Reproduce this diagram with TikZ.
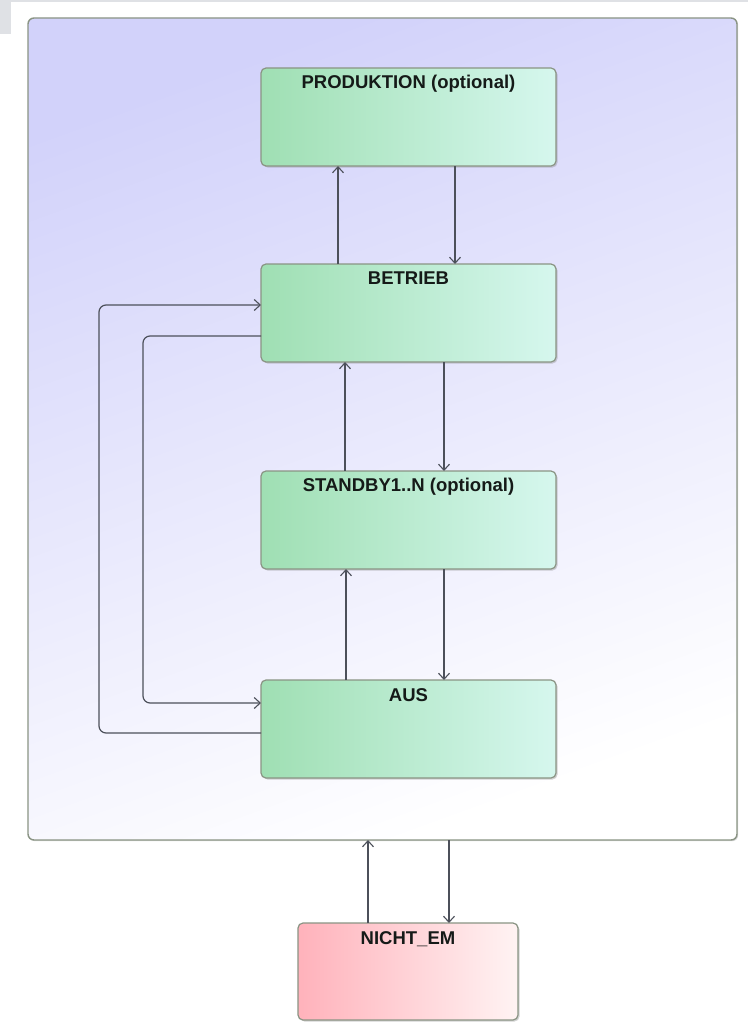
\documentclass[tikz,border=0pt]{standalone}
\usepackage{fontspec}
\setmainfont{Liberation Sans}
\usetikzlibrary{arrows.meta,shadows}
\definecolor{lavender}{HTML}{D2D2FA}
\definecolor{framegrey}{HTML}{8A9484}
\definecolor{greenL}{HTML}{9FDFB3}
\definecolor{greenR}{HTML}{D6F7EE}
\definecolor{pinkL}{HTML}{FFB2BB}
\definecolor{pinkR}{HTML}{FFF3F3}
\definecolor{wire}{HTML}{4C505A}
\definecolor{tabgrey}{HTML}{DFE1E5}
\definecolor{textdark}{HTML}{151A18}
\begin{document}
\begin{tikzpicture}[x=1pt,y=-1pt,
  container/.style={draw=framegrey, line width=1.4pt, rounded corners=6pt,
    top color=lavender, bottom color=white, shading angle=20,
    drop shadow={shadow xshift=1.2pt, shadow yshift=-1.2pt, opacity=0.3},
    anchor=north west, inner sep=0pt, outer sep=0pt},
  statebox/.style={draw=framegrey, line width=1.2pt, rounded corners=5pt,
    left color=greenL, right color=greenR,
    drop shadow={shadow xshift=1.5pt, shadow yshift=-1.5pt, opacity=0.35},
    minimum width=295pt, minimum height=98pt,
    anchor=north west, inner sep=0pt, outer sep=0pt},
  outbox/.style={statebox, left color=pinkL, right color=pinkR,
    minimum width=220pt, minimum height=97pt},
  title/.style={anchor=base, text=textdark, inner sep=0pt,
    font=\bfseries\fontsize{18.5}{20}\selectfont},
  arr/.style={draw=wire, line width=1.2pt,
    -{Straight Barb[length=6pt,width=11pt,line width=1.1pt]}}
]
% page area and the grey tab in the corner
\useasboundingbox (0,0) rectangle (748,1022);
\fill[white] (0,0) rectangle (748,1022);
\fill[tabgrey] (0,0) rectangle (748,2);
\fill[tabgrey] (0,0) rectangle (11,34);

% composite state
\node[container, minimum width=709pt, minimum height=822pt] (em) at (28,18) {};

% inner states
\node[statebox] (prod) at (261,68)  {};
\node[statebox] (betr) at (261,264) {};
\node[statebox] (stby) at (261,471) {};
\node[statebox] (aus)  at (261,680) {};
\node[outbox]   (nicht) at (298,923) {};

% state names
\node[title] (tprod)  at ([yshift=-20.5pt]prod.north)  {PRODUKTION (optional)};
\node[title] (tbetr)  at ([yshift=-20.5pt]betr.north)  {BETRIEB};
\node[title] (tstby)  at ([yshift=-20.5pt]stby.north)  {STANDBY1..N (optional)};
\node[title] (taus)   at ([yshift=-21pt]aus.north)     {AUS};
\node[title] (tnicht) at ([yshift=-21pt]nicht.north)   {NICHT\_EM};

% transitions between PRODUKTION and BETRIEB
\draw[arr] ([xshift=77pt]betr.north west) -- ([xshift=77pt]prod.south west);
\draw[arr] ([xshift=194pt]prod.south west) -- ([xshift=194pt]betr.north west);

% transitions between BETRIEB and STANDBY
\draw[arr] ([xshift=84pt]stby.north west) -- ([xshift=84pt]betr.south west);
\draw[arr] ([xshift=183pt]betr.south west) -- ([xshift=183pt]stby.north west);

% transitions between STANDBY and AUS
\draw[arr] ([xshift=85pt]aus.north west) -- ([xshift=85pt]stby.south west);
\draw[arr] ([xshift=183pt]stby.south west) -- ([xshift=183pt]aus.north west);

% loops on the left between AUS and BETRIEB
\draw[arr, rounded corners=7pt] ([yshift=-53pt]aus.north west) -- ++(-162,0)
  |- ([yshift=-41pt]betr.north west);
\draw[arr, rounded corners=7pt] ([yshift=-72pt]betr.north west) -- ++(-118,0)
  |- ([yshift=-23pt]aus.north west);

% transitions between NICHT_EM and the composite state
\draw[arr] ([xshift=70pt]nicht.north west) -- ([xshift=70pt]nicht.north west |- em.south);
\draw[arr] ([xshift=151pt]nicht.north west |- em.south) -- ([xshift=151pt]nicht.north west);
\end{tikzpicture}
\end{document}
